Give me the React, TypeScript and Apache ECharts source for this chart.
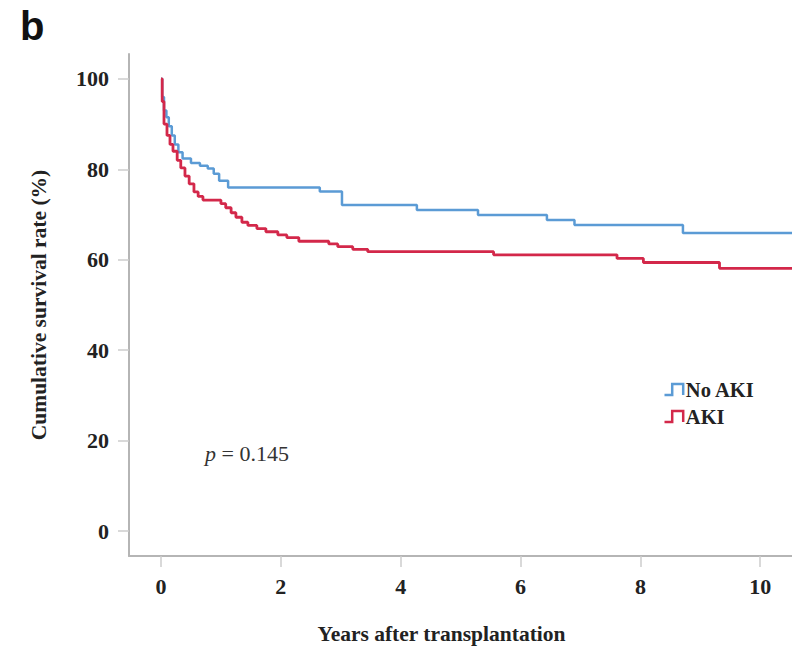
import React, { useEffect, useRef } from "react";
import * as echarts from "echarts";

// Kaplan-Meier survival estimates (years, %)
const noAkiTimes = [0, 0.02, 0.05, 0.09, 0.13, 0.18, 0.23, 0.29, 0.36, 0.5, 0.65, 0.78, 0.88, 0.97, 1.12, 2.65, 3.02, 4.27, 5.29, 6.44, 6.9, 8.71, 10.53];
const noAkiSurv = [100, 96, 93, 91.5, 89.5, 87.5, 85.5, 83.8, 82.4, 81.4, 80.8, 80.2, 79, 77.5, 76, 75.1, 72.1, 71.0, 69.9, 68.8, 67.7, 65.9, 65.9];

const akiTimes = [0, 0.02, 0.05, 0.1, 0.15, 0.2, 0.27, 0.33, 0.4, 0.47, 0.55, 0.62, 0.7, 1.0, 1.08, 1.17, 1.25, 1.35, 1.45, 1.6, 1.75, 1.95, 2.1, 2.3, 2.8, 2.95, 3.2, 3.45, 5.55, 7.61, 8.05, 9.32, 10.53];
const akiSurv = [100, 95, 90, 87.5, 85.5, 84, 82, 80.3, 78.5, 76.8, 75, 74, 73.2, 72.4, 71.5, 70.4, 69.4, 68.3, 67.6, 66.9, 66.2, 65.5, 64.9, 64.1, 63.5, 62.9, 62.3, 61.8, 61.1, 60.3, 59.4, 58.1, 58.1];

const xTicks = [0, 2, 4, 6, 8, 10];
const yTicks = [0, 20, 40, 60, 80, 100];

const seriesNames = ["No AKI", "AKI"];
const seriesColors = ["#5b9bd5", "#d3284a"];

const pLabel = "= 0.145";
const panelLabel = "b";

const stepIcon = "path://M0,10 L7,10 L7,0 L17,0 L17,10";

export default function App() {
  const ref = useRef<HTMLDivElement>(null);
  useEffect(() => {
    if (!ref.current) return;
    const chart = echarts.init(ref.current, undefined, { renderer: "svg" });
    const serif = "'Liberation Serif', 'Times New Roman', serif";
    const zip = (t: number[], v: number[]) => t.map((x, i) => [x, v[i]]);
    chart.setOption({
      animation: false,
      backgroundColor: "#ffffff",
      grid: { left: 129, top: 54, right: 0, bottom: 95, containLabel: false },
      xAxis: {
        type: "value",
        min: -0.534,
        max: 10.53,
        name: "Years after transplantation",
        nameLocation: "middle",
        nameGap: 67,
        nameTextStyle: { fontFamily: serif, fontWeight: "bold", fontSize: 21.5, color: "#222", padding: [0, 38, 0, 0] },
        splitLine: { show: false },
        axisLine: { show: true, onZero: false, lineStyle: { color: "#b5b5b5", width: 2 } },
        axisTick: { show: true, length: 11, customValues: xTicks, lineStyle: { color: "#cccccc", width: 1.5 } },
        axisLabel: { customValues: xTicks, margin: 19, fontFamily: serif, fontWeight: "bold", fontSize: 22, color: "#222" },
      },
      yAxis: {
        type: "value",
        min: -5.5,
        max: 105.5,
        name: "Cumulative survival rate (%)",
        nameLocation: "middle",
        nameGap: 79,
        nameTextStyle: { fontFamily: serif, fontWeight: "bold", fontSize: 21.5, color: "#222" },
        splitLine: { show: false },
        axisLine: { show: true, onZero: false, lineStyle: { color: "#b5b5b5", width: 2 } },
        axisTick: { show: true, length: 11, customValues: yTicks, lineStyle: { color: "#cccccc", width: 1.5 } },
        axisLabel: { customValues: yTicks, margin: 20, fontFamily: serif, fontWeight: "bold", fontSize: 22, color: "#222" },
      },
      legend: {
        orient: "vertical",
        left: 657,
        top: 374,
        itemWidth: 22,
        itemHeight: 11,
        itemGap: 6,
        textStyle: { fontFamily: serif, fontWeight: "bold", fontSize: 20.5, color: "#222", padding: [0, 0, 0, -4] },
        data: seriesNames.map((n, i) => ({
          name: n,
          icon: stepIcon,
          itemStyle: { color: "none", borderColor: seriesColors[i], borderWidth: 2.5 },
        })),
      },
      series: [
        {
          name: seriesNames[0],
          type: "line",
          step: "end",
          showSymbol: false,
          data: zip(noAkiTimes, noAkiSurv),
          lineStyle: { color: seriesColors[0], width: 2.5 },
          itemStyle: { color: seriesColors[0] },
        },
        {
          name: seriesNames[1],
          type: "line",
          step: "end",
          showSymbol: false,
          data: zip(akiTimes, akiSurv),
          lineStyle: { color: seriesColors[1], width: 2.8 },
          itemStyle: { color: seriesColors[1] },
        },
      ],
      graphic: [
        {
          type: "text",
          left: 20,
          top: 6,
          style: { text: panelLabel, fontFamily: "'Liberation Sans', Arial, sans-serif", fontWeight: "bold", fontSize: 40, fill: "#111" },
        },
        {
          type: "text",
          left: 205,
          top: 442,
          style: {
            text: "{i|p} " + pLabel,
            fontFamily: serif,
            fontSize: 22,
            fill: "#333",
            rich: { i: { fontStyle: "italic", fontFamily: serif, fontSize: 22, fill: "#333" } },
          },
        },
      ],
    });
    return () => chart.dispose();
  }, []);
  return <div ref={ref} style={{ position: "absolute", left: 0, top: 0, width: 792, height: 651 }} />;
}
